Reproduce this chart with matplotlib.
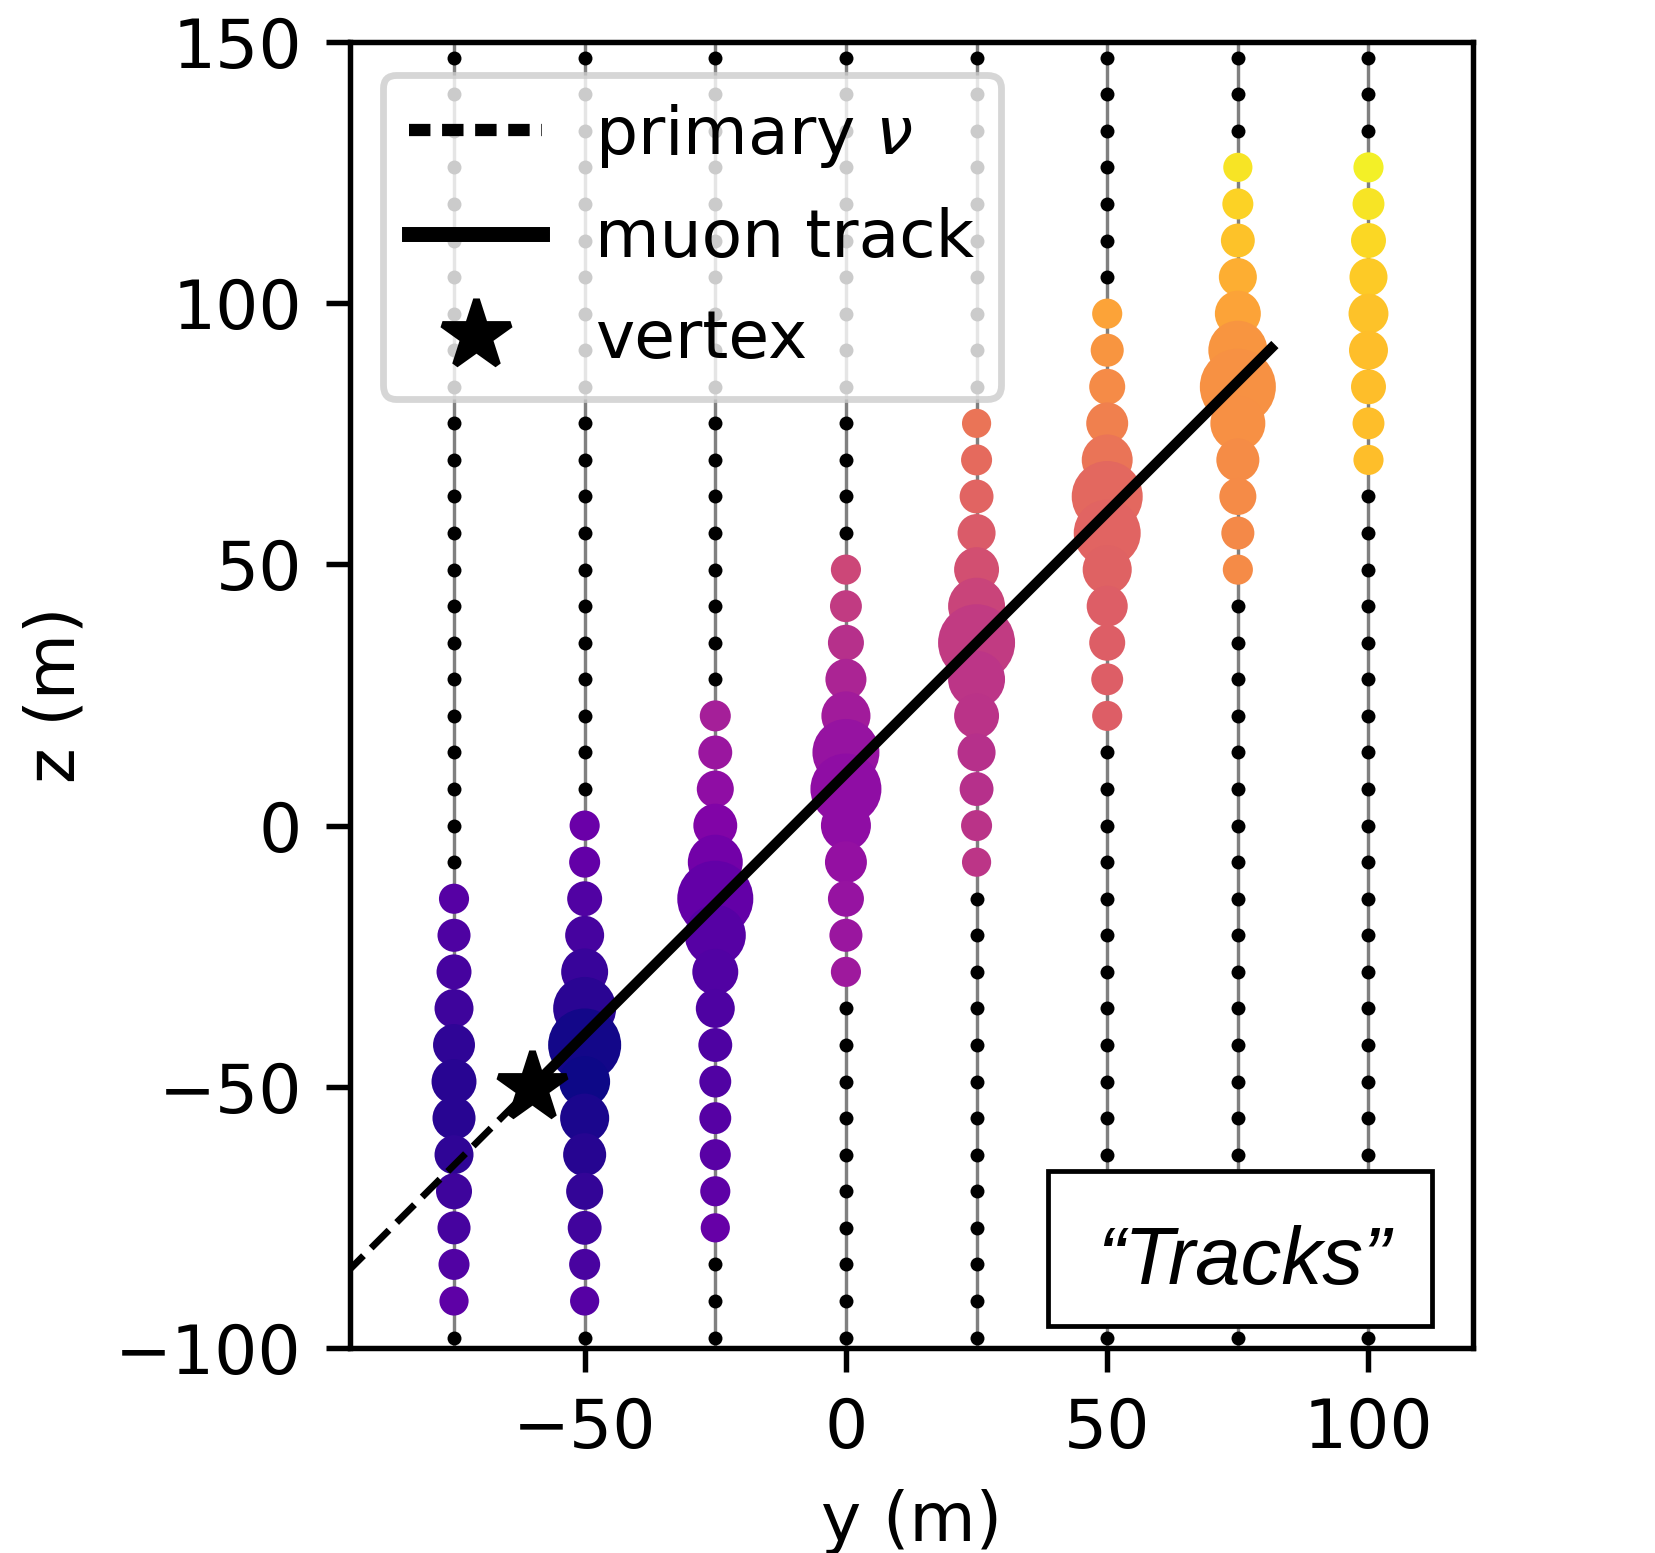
import numpy as np
import matplotlib
matplotlib.use("agg")
import matplotlib.pyplot as plt
from matplotlib.lines import Line2D
from matplotlib.patches import Rectangle

# string positions (y, m) and DOM depths (z, m)
string_y = [-75, -50, -25, 0, 25, 50, 75, 100]
dom_z = [-98, -91, -84, -77, -70, -63, -56, -49, -42, -35, -28, -21,
         -14, -7, 0, 7, 14, 21, 28, 35, 42, 49, 56, 63, 70, 77,
         84, 91, 98, 105, 112, 119, 126, 133, 140, 147]

# hit DOMs on each string: depth, charge (a.u.) and arrival time (normalised)
hit_z = [
    [-14, -21, -28, -35, -42, -49, -56, -63, -70, -77, -84, -91],
    [0, -7, -14, -21, -28, -35, -42, -49, -56, -63, -70, -77, -84, -91],
    [21, 14, 7, 0, -7, -14, -21, -28, -35, -42, -49, -56, -63, -70, -77],
    [49, 42, 35, 28, 21, 14, 7, 0, -7, -14, -21, -28],
    [77, 70, 63, 56, 49, 42, 35, 28, 21, 14, 7, 0, -7],
    [98, 91, 84, 77, 70, 63, 56, 49, 42, 35, 28, 21],
    [126, 119, 112, 105, 98, 91, 84, 77, 70, 63, 56, 49],
    [126, 119, 112, 105, 98, 91, 84, 77, 70],
]
hit_charge = [
    [4.9, 5.9, 6.6, 8.2, 9.5, 10.9, 10.0, 8.2, 7.0, 5.9, 5.2, 4.6],
    [4.9, 5.2, 6.6, 8.2, 11.9, 21.4, 28.8, 14.0, 13.0, 10.0, 7.4, 6.2, 5.2, 4.6],
    [5.2, 6.2, 7.4, 10.4, 16.3, 31.2, 20.1, 11.4, 8.2, 6.2, 5.5, 5.5, 5.2, 4.9, 4.6],
    [4.9, 5.5, 7.0, 9.1, 13.0, 24.2, 27.2, 13.5, 9.5, 7.0, 5.9, 4.9],
    [4.6, 5.2, 6.2, 7.8, 10.9, 17.5, 32.0, 17.5, 10.9, 7.8, 6.2, 5.2, 4.6],
    [4.9, 5.9, 7.0, 9.5, 14.0, 27.2, 24.2, 13.0, 9.1, 7.0, 5.5, 4.9],
    [4.6, 5.2, 6.2, 7.8, 11.4, 18.8, 31.2, 16.3, 10.0, 7.4, 5.9, 4.9],
    [4.9, 5.5, 6.6, 7.8, 8.6, 8.2, 6.6, 5.5, 4.9],
]
hit_time = [
    [0.15, 0.13, 0.11, 0.09, 0.06, 0.045, 0.045, 0.06, 0.09, 0.11, 0.14, 0.17],
    [0.20, 0.18, 0.14, 0.11, 0.08, 0.05, 0.01, 0.0, 0.02, 0.04, 0.07, 0.10, 0.12, 0.15],
    [0.36, 0.33, 0.30, 0.26, 0.22, 0.18, 0.15, 0.14, 0.13, 0.13, 0.14, 0.15, 0.16, 0.17, 0.19],
    [0.50, 0.46, 0.42, 0.38, 0.35, 0.32, 0.30, 0.30, 0.31, 0.32, 0.33, 0.34],
    [0.65, 0.62, 0.60, 0.57, 0.53, 0.49, 0.46, 0.44, 0.43, 0.42, 0.42, 0.43, 0.44],
    [0.79, 0.75, 0.72, 0.69, 0.65, 0.61, 0.60, 0.59, 0.58, 0.58, 0.58, 0.58],
    [0.95, 0.91, 0.87, 0.82, 0.79, 0.75, 0.74, 0.735, 0.725, 0.72, 0.715, 0.72],
    [0.98, 0.95, 0.92, 0.89, 0.87, 0.86, 0.86, 0.86, 0.86],
]

# interaction vertex, muon end point and incoming neutrino start (y, z)
vertex = (-60, -50)
muon_end = (81.4, 91.4)
nu_start = (-160, -150)

fig = plt.figure(figsize=(1655 / 490, 1553 / 490), dpi=490)
ax = fig.add_axes([349.5 / 1655, 205 / 1553, 1123.5 / 1655, 1306 / 1553])

for y in string_y:
    ax.axvline(y, color='grey', lw=0.5, zorder=1)
    ax.scatter([y] * len(dom_z), dom_z, s=4.2, color='k', lw=0, zorder=2)

for y, zs, q, t in zip(string_y, hit_z, hit_charge, hit_time):
    ax.scatter([y] * len(zs), zs, s=4.0 * np.array(q), c=t, cmap='plasma',
               vmin=0, vmax=1, lw=0, zorder=3)

ax.plot([nu_start[0], vertex[0]], [nu_start[1], vertex[1]], 'k--', lw=1, zorder=4)
ax.plot([vertex[0], muon_end[0]], [vertex[1], muon_end[1]], 'k-', lw=1.5, zorder=4)
ax.plot(vertex[0], vertex[1], 'k*', ms=10.5, zorder=5)

handles = [Line2D([], [], color='k', ls=(0, (1.75, 0.95)), lw=1.8),
           Line2D([], [], color='k', lw=2.2),
           Line2D([], [], color='k', marker='*', ls='none', ms=10.5)]
ax.legend(handles, [r'primary $\nu$', 'muon track', 'vertex'],
          loc='upper left', fontsize=9.75, labelspacing=0.56)

ax.add_patch(Rectangle((0.6217, 0.0171), 0.3418, 0.1187, transform=ax.transAxes,
                       fc='white', ec='k', lw=0.7, zorder=6))
ax.text(0.796, 0.049, '\u201cTracks\u201d', transform=ax.transAxes,
        ha='center', va='baseline', fontsize=12, style='italic',
        family=['Liberation Sans', 'DejaVu Sans'], zorder=7)

ax.set_xlim(-95, 120)
ax.set_ylim(-100, 150)
ax.set_xticks([-50, 0, 50, 100])
ax.set_yticks([-100, -50, 0, 50, 100, 150])
ax.set_xlabel('y (m)')
ax.set_ylabel('z (m)')

fig.savefig('out.png', dpi=490)
